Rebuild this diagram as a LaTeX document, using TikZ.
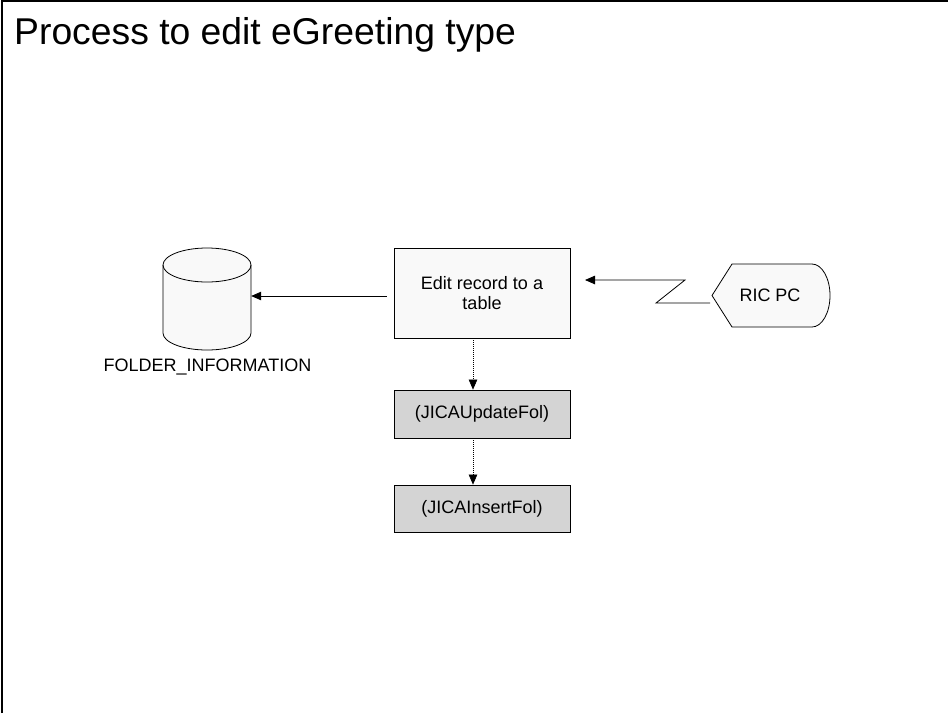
\documentclass[tikz,border=0pt]{standalone}
\usepackage{fontspec}
\setmainfont{Liberation Sans}
\usetikzlibrary{arrows.meta}
\definecolor{boxlight}{HTML}{F9F9F9}
\definecolor{boxgray}{HTML}{D4D4D4}
\begin{document}
\begin{tikzpicture}[x=1pt,y=-1pt,
  every node/.style={font=\fontsize{18}{20.5}\selectfont},
  proc/.style={draw, line width=0.8pt, minimum width=176pt, inner sep=0pt, align=center},
  tipstyle/.style={-{Triangle[length=10pt,width=8.5pt]}},
  link/.style={line width=0.8pt, tipstyle},
  dotlink/.style={line width=0.6pt, dash pattern=on 1pt off 1pt, tipstyle},
  shapeline/.style={line width=0.8pt, fill=boxlight}]
\useasboundingbox (0,0) rectangle (949,713);
\fill[white] (0,0) rectangle (949,713);
\draw[line width=2.5pt] (2.2,713) -- (2.2,1.2) -- (948,1.2);
\node[anchor=base west, font=\fontsize{37.3}{40}\selectfont, inner sep=0pt] (title) at (14,44.5) {Process to edit eGreeting type};
% database cylinder
\node[minimum width=88pt, minimum height=102pt, inner sep=0pt] (db) at (207,299) {};
\filldraw[shapeline] (163,265) -- (163,333) arc[start angle=180, end angle=360, x radius=44pt, y radius=17pt] -- (251,265) arc[start angle=0, end angle=180, x radius=44pt, y radius=17pt] -- cycle;
\draw[line width=0.8pt] (163,265) arc[start angle=180, end angle=360, x radius=44pt, y radius=17pt];
\node[anchor=base, inner sep=0pt] (dblabel) at (207.5,371) {FOLDER\_INFORMATION};
% process boxes
\node[proc, fill=boxlight, minimum height=90pt] (edit) at (482,293) {Edit record to a\\table};
\node[proc, fill=boxgray, minimum height=48pt] (upd) at (482,414) {(JICAUpdateFol)};
\node[proc, fill=boxgray, minimum height=47pt] (ins) at (482,508.5) {(JICAInsertFol)};
% display shape
\filldraw[shapeline] (712,295.5) -- (732,264) -- (812,264) arc[start angle=90, end angle=-90, x radius=18pt, y radius=31.5pt] -- (732,327) -- cycle;
\node (ric) at (770,295.5) {RIC PC};
% connectors
\coordinate (rowa) at (0,296);
\draw[link, shorten <=7pt] (edit.west |- rowa) -- (db.east |- rowa);
\draw[dotlink] ([xshift=-9pt]edit.south) -- ([xshift=-9pt]upd.north);
\draw[dotlink] ([xshift=-9pt]upd.south) -- ([xshift=-9pt]ins.north);
\coordinate (ricin) at (710,303);
\coordinate (jogA) at (656,303);
\coordinate (jogB) at (685,280);
\coordinate (tipend) at (585,280);
\draw[link] (ricin) -- (jogA) -- (jogB) -- (tipend);
\end{tikzpicture}
\end{document}
